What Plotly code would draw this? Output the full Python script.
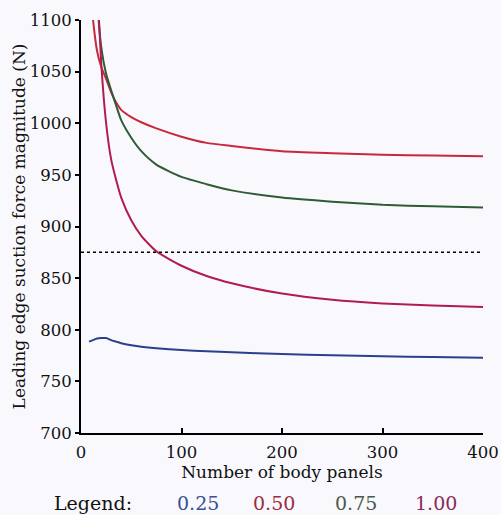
import plotly.graph_objects as go

# ---- data ----
panels = [8, 12, 16, 20, 25, 30, 35, 40, 50, 60, 75, 100, 125, 150, 200, 250, 300, 350, 400]

force_025 = [788.5, 790.0, 791.5, 792.0, 792.0, 790.0, 788.5, 787.0, 785.0, 783.5, 782.0,
             780.3, 779.2, 778.2, 776.5, 775.3, 774.3, 773.6, 773.0]
force_050 = [1150, 1100, 1070, 1055, 1043, 1030, 1020, 1013, 1006, 1001, 995,
             987, 981, 978, 973, 971, 969.5, 968.7, 968.0]
force_075 = [1260, 1190, 1120, 1075, 1048, 1032, 1017, 1003, 986, 973, 960,
             948, 941, 935, 928, 924, 921, 919.5, 918.5]
force_100 = [1400, 1250, 1140, 1060, 1000, 965, 945, 928, 906, 891, 876,
             862, 852, 845, 835, 829, 825.5, 823.5, 822.0]

series_labels = ["0.25", "0.50", "0.75", "1.00"]
reference_force = 875
reference_panels = [0, 400]

x_ticks = [0, 100, 200, 300, 400]
y_ticks = [700, 750, 800, 850, 900, 950, 1000, 1050, 1100]

# ---- styling ----
line_colors = ["#2b3f8c", "#c8283c", "#2f5c36", "#b01c50"]
label_colors = ["#3b4f96", "#9b2c3f", "#4a5a4a", "#8b2a5a"]
FONT = "DejaVu Serif"

fig = go.Figure()
for ys, col, name in zip([force_025, force_050, force_075, force_100], line_colors, series_labels):
    fig.add_trace(go.Scatter(x=panels, y=ys, mode="lines", name=name,
                             line=dict(color=col, width=2, shape="spline", smoothing=0.6),
                             showlegend=False))

fig.add_trace(go.Scatter(x=reference_panels, y=[reference_force] * len(reference_panels),
                         mode="lines", line=dict(color="black", width=1.6, dash="dot"),
                         showlegend=False))

# legend row as coloured text
legend_x = [0.291, 0.480, 0.684, 0.883]
fig.add_annotation(text="Legend:", x=0.030, y=-0.169, xref="paper", yref="paper",
                   showarrow=False, font=dict(family=FONT, size=19, color="#111111"),
                   xanchor="center", yanchor="middle")
for lab, col, px in zip(series_labels, label_colors, legend_x):
    fig.add_annotation(text=lab, x=px, y=-0.169, xref="paper", yref="paper",
                       showarrow=False, font=dict(family=FONT, size=19, color=col),
                       xanchor="center", yanchor="middle")

fig.update_layout(
    width=501, height=515,
    margin=dict(l=81, r=18, t=20, b=82),
    paper_bgcolor="#f9f9fd", plot_bgcolor="#f9f9fd",
    font=dict(family=FONT, color="#111111"),
    xaxis=dict(range=[0, 400], tickvals=x_ticks, ticks="inside", ticklen=5, tickwidth=1.5,
               tickcolor="black", showline=True, linecolor="black", linewidth=2,
               showgrid=False, zeroline=False, tickfont=dict(size=16.5), automargin=False,
               ticklabelstandoff=3,
               title=dict(text="Number of body panels", font=dict(size=17), standoff=0)),
    yaxis=dict(range=[700, 1100], tickvals=y_ticks, ticks="outside", ticklen=4, tickwidth=1.5,
               tickcolor="black", showline=True, linecolor="black", linewidth=2,
               showgrid=False, zeroline=False, tickfont=dict(size=16.5), automargin=False,
               title=dict(text="Leading edge suction force magnitude (N)", font=dict(size=17),
                          standoff=0)),
)

fig.write_html("out.html")
